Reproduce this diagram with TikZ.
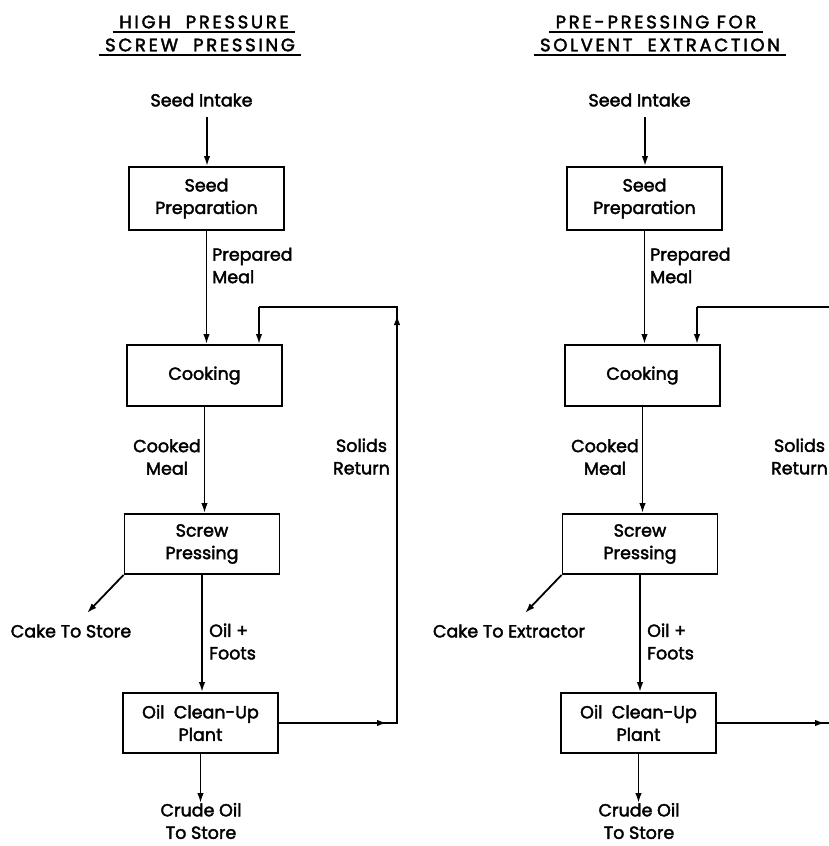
\documentclass[tikz,border=0pt]{standalone}
\usepackage{fontspec}
\setmainfont{Poppins}[AutoFakeBold=2.2]
\usetikzlibrary{arrows.meta}
\newcommand\lblfont{\fontsize{17.5}{22.5}\selectfont\bfseries}
\newcommand\ttlfont{\fontsize{18}{20}\selectfont\bfseries\addfontfeature{LetterSpace=15}}
\tikzset{
  box/.style={draw, line width=1.9pt, minimum width=155pt, minimum height=61pt,
    inner sep=0pt, align=center, font=\lblfont},
  lbl/.style={font=\lblfont, inner sep=0pt, align=center},
  flow/.style={line width=1.8pt},
  arr/.style={flow, -{Latex[length=10pt,width=6.5pt]}},
  ttl/.style={font=\ttlfont, inner xsep=6pt, inner ysep=0pt},
  uline/.style={line width=2.2pt},
}
\newcommand\oneflow[3]{%
\begin{scope}[xshift=#2pt]
  \node[lbl] (#1in) at (201.5,100) {Seed Intake};
  \node[box, minimum height=63pt] (#1sp) at (206.5,198.5) {Seed\\Preparation};
  \node[box] (#1ck) at (204.5,375.5) {Cooking};
  \node[box, minimum height=60pt] (#1sc) at (202,544) {Screw\\Pressing};
  \node[box, minimum height=60pt] (#1oc) at (200.5,723) {Oil\ \ Clean-Up\\Plant};
  \node[lbl, align=left, anchor=west] (#1pm) at (212,265.5) {Prepared\\Meal};
  \node[lbl] (#1cm) at (167,457) {Cooked\\Meal};
  \node[lbl] (#1sr) at (361.5,456.5) {Solids\\Return};
  \node[lbl] (#1cake) at (71,631) {#3};
  \node[lbl, align=left, anchor=west] (#1of) at (209,641.5) {Oil +\\Foots};
  \node[lbl] (#1co) at (201,821) {Crude Oil\\To Store};
  \coordinate (#1ina) at (207,117);
  \coordinate (#1cke) at (87,613);
  \coordinate (#1cot) at (200.5,803);
  \coordinate (#1r1) at (397,723);
  \coordinate (#1r2) at (397,307);
  \coordinate (#1r3) at (259,307);
  \draw[arr] (#1ina) -- (#1ina |- #1sp.north);
  \draw[arr] (#1sp.south) -- (#1sp.south |- #1ck.north);
  \draw[arr] (#1ck.south) -- (#1ck.south |- #1sc.north);
  \draw[arr] (#1sc.south) -- (#1sc.south |- #1oc.north);
  \draw[arr] (#1oc.south) -- (#1cot);
  \draw[arr] (#1sc.south west) -- (#1cke);
  \draw[flow] (#1oc.east) -- (#1r1) -- (#1r2) -- (#1r3);
  \draw[arr] (#1r3) -- (#1r3 |- #1ck.north);
  \draw[arr] (#1oc.east) -- ([xshift=-10pt]#1r1);
  \draw[arr] (#1r1) -- ([yshift=-8pt]#1r2);
\end{scope}}
\begin{document}
\begin{tikzpicture}[x=1pt, y=-1pt]
  \clip (0,0) rectangle (829,846);
  \useasboundingbox (0,0) rectangle (829,846);
  \fill[white] (0,0) rectangle (829,846);
  % titles
  \node[ttl] (Lt1) at (204,22) {HIGH\ \ PRESSURE};
  \node[ttl] (Lt2) at (200,45) {SCREW\ \ PRESSING};
  \node[ttl] (Rt1) at (656,22) {PRE\,-\,PRESSING FOR};
  \node[ttl] (Rt2) at (660,45) {SOLVENT\ \ EXTRACTION};
  \draw[uline] ([yshift=-4pt]Lt1.base west) -- ([yshift=-4pt]Lt1.base east);
  \draw[uline] ([yshift=-4pt]Lt2.base west) -- ([yshift=-4pt]Lt2.base east);
  \draw[uline] ([yshift=-4pt]Rt1.base west) -- ([yshift=-4pt]Rt1.base east);
  \draw[uline] ([yshift=-4pt]Rt2.base west) -- ([yshift=-4pt]Rt2.base east);
  \oneflow{L}{0}{Cake To Store}
  \oneflow{R}{438}{Cake To Extractor}
\end{tikzpicture}
\end{document}
